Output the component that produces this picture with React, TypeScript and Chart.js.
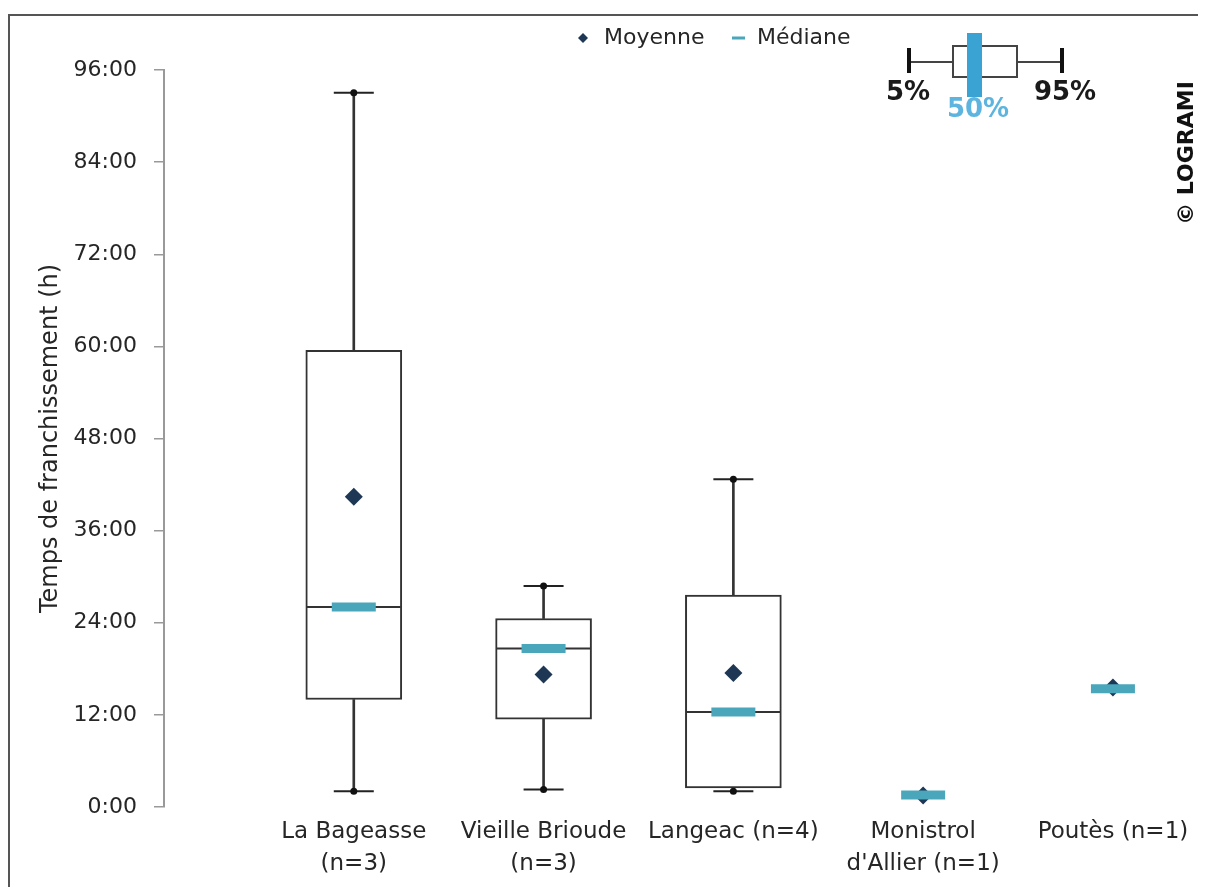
import React, { useEffect, useRef } from 'react';
import { Chart, registerables } from 'chart.js';

Chart.register(...registerables);

// ---- data ----
const categories: (string | string[])[] = [
  ['La Bageasse', '(n=3)'],
  ['Vieille Brioude', '(n=3)'],
  'Langeac (n=4)',
  ['Monistrol', "d'Allier (n=1)"],
  'Poutès (n=1)',
];
const p5: (number | null)[] = [2.05, 2.27, 2.05, null, null];
const p25: (number | null)[] = [14.0, 11.43, 2.48, null, null];
const p50: number[] = [26.06, 20.64, 12.38, 1.55, 15.4];
const p75: (number | null)[] = [59.5, 24.55, 27.6, null, null];
const p95: (number | null)[] = [93.05, 28.8, 42.7, null, null];
const means: number[] = [40.4, 17.25, 17.46, 1.5, 15.55];
const yTickValues: number[] = [0, 12, 24, 36, 48, 60, 72, 84, 96];
const legendLabels = ['Moyenne', 'Médiane'];
const keyLabels = ['5%', '50%', '95%'];
const creditText = '© LOGRAMI';
const yTitle = 'Temps de franchissement (h)';

// ---- styles ----
const FONT = '"DejaVu Sans", sans-serif';
const MEAN_COLOR = '#1d3755';
const MEDIAN_COLOR = '#4aa6bb';
const LINE_COLOR = '#333333';
const TEXT_COLOR = '#262626';
const KEY_BLUE = '#3aa3d3';

const idx = categories.map((_, i) => i + 1);
const pts = (vals: (number | null)[]) =>
  idx.map((x, i) => (vals[i] == null ? null : { x, y: vals[i] as number })).filter(Boolean) as any[];
const ranges = (lo: (number | null)[], hi: (number | null)[]) =>
  idx
    .map((x, i) => (lo[i] == null || hi[i] == null ? null : { x, y: [lo[i], hi[i]] }))
    .filter(Boolean) as any[];

const decorPlugin = {
  id: 'decor',
  afterDraw(chart: any) {
    const ctx: CanvasRenderingContext2D = chart.ctx;
    ctx.save();
    // legend
    ctx.fillStyle = MEAN_COLOR;
    ctx.beginPath();
    const lx = 573, ly = 22, r = 5;
    ctx.moveTo(lx, ly - r);
    ctx.lineTo(lx + r, ly);
    ctx.lineTo(lx, ly + r);
    ctx.lineTo(lx - r, ly);
    ctx.closePath();
    ctx.fill();
    ctx.font = `22px ${FONT}`;
    ctx.fillStyle = TEXT_COLOR;
    ctx.textBaseline = 'middle';
    ctx.textAlign = 'left';
    ctx.fillText(legendLabels[0], 594, ly);
    ctx.strokeStyle = MEDIAN_COLOR;
    ctx.lineWidth = 3;
    ctx.beginPath();
    ctx.moveTo(722, ly);
    ctx.lineTo(735, ly);
    ctx.stroke();
    ctx.fillText(legendLabels[1], 747, ly);

    // key diagram
    ctx.strokeStyle = '#444';
    ctx.lineWidth = 2;
    ctx.beginPath();
    ctx.moveTo(899, 46);
    ctx.lineTo(943, 46);
    ctx.moveTo(1007, 46);
    ctx.lineTo(1052, 46);
    ctx.stroke();
    ctx.fillStyle = '#fff';
    ctx.fillRect(943, 30, 64, 31);
    ctx.strokeRect(943, 30, 64, 31);
    ctx.strokeStyle = '#111';
    ctx.lineWidth = 4;
    ctx.beginPath();
    ctx.moveTo(899, 32);
    ctx.lineTo(899, 57);
    ctx.moveTo(1052, 32);
    ctx.lineTo(1052, 57);
    ctx.stroke();
    ctx.fillStyle = KEY_BLUE;
    ctx.fillRect(957, 17, 15, 64);
    ctx.textAlign = 'center';
    ctx.textBaseline = 'alphabetic';
    ctx.font = `bold 26px ${FONT}`;
    ctx.fillStyle = '#1a1a1a';
    ctx.fillText(keyLabels[0], 898, 84);
    ctx.fillText(keyLabels[2], 1055, 84);
    ctx.fillStyle = '#5db5df';
    ctx.fillText(keyLabels[1], 968, 101);

    // credit
    ctx.translate(1177, 137);
    ctx.rotate(-Math.PI / 2);
    ctx.font = `bold 22px ${FONT}`;
    ctx.fillStyle = '#111';
    ctx.textBaseline = 'middle';
    ctx.fillText(creditText, 0, 0);
    ctx.restore();
  },
};

export default function App() {
  const ref = useRef<HTMLCanvasElement | null>(null);
  useEffect(() => {
    if (!ref.current) return;
    const chart = new Chart(ref.current, {
      type: 'bar',
      data: {
        datasets: [
          {
            type: 'bar',
            label: 'whisker-high',
            data: ranges(p75, p95),
            backgroundColor: LINE_COLOR,
            borderWidth: 0,
            barThickness: 2,
            grouped: false,
            order: 20,
          } as any,
          {
            type: 'bar',
            label: 'whisker-low',
            data: ranges(p5, p25),
            backgroundColor: LINE_COLOR,
            borderWidth: 0,
            barThickness: 2,
            grouped: false,
            order: 19,
          } as any,
          {
            type: 'bar',
            label: 'box',
            data: ranges(p25, p75),
            backgroundColor: '#ffffff',
            borderColor: LINE_COLOR,
            borderWidth: 2,
            borderSkipped: false,
            barThickness: 96,
            grouped: false,
            order: 18,
          } as any,
          {
            type: 'scatter',
            label: 'caps',
            data: [...pts(p5), ...pts(p95)],
            pointStyle: 'line',
            pointRadius: 20,
            borderColor: '#222',
            borderWidth: 2,
            order: 17,
          } as any,
          {
            type: 'scatter',
            label: 'cap-dots',
            data: [...pts(p5), ...pts(p95)],
            pointStyle: 'circle',
            pointRadius: 3.5,
            backgroundColor: '#111',
            borderWidth: 0,
            order: 16,
          } as any,
          {
            type: 'scatter',
            label: 'median-line',
            data: pts(p50.map((v, i) => (p25[i] == null ? null : v))),
            pointStyle: 'line',
            pointRadius: 47,
            borderColor: LINE_COLOR,
            borderWidth: 2,
            order: 15,
          } as any,
          {
            type: 'scatter',
            label: legendLabels[0],
            data: pts(means),
            pointStyle: 'rectRot',
            pointRadius: 9,
            backgroundColor: MEAN_COLOR,
            borderWidth: 0,
            order: 14,
          } as any,
          {
            type: 'scatter',
            label: legendLabels[1],
            data: pts(p50),
            pointStyle: 'line',
            pointRadius: 22,
            borderColor: MEDIAN_COLOR,
            borderWidth: 9,
            order: 13,
          } as any,
        ],
      },
      options: {
        animation: false,
        responsive: false,
        events: [],
        layout: { padding: { top: 54, right: 2, left: 0, bottom: 0 } },
        plugins: {
          legend: { display: false },
          tooltip: { enabled: false },
        },
        scales: {
          x: {
            type: 'linear',
            min: 0,
            max: 5.19,
            offset: false,
            grid: { display: false, drawTicks: false, offset: false },
            border: { display: false },
            afterBuildTicks: (s: any) => {
              s.ticks = idx.map((v) => ({ value: v }));
            },
            afterFit: (s: any) => {
              s.height = 88;
              s.paddingLeft = 0;
              s.paddingRight = 0;
            },
            ticks: {
              autoSkip: false,
              maxRotation: 0,
              padding: 10,
              color: TEXT_COLOR,
              font: { family: FONT, size: 23, lineHeight: 1.35 },
              callback: (v: any) => categories[Math.round(v) - 1] ?? '',
            },
          } as any,
          y: {
            type: 'linear',
            min: 0,
            max: 96,
            afterBuildTicks: (s: any) => {
              s.ticks = yTickValues.map((v) => ({ value: v }));
            },
            afterFit: (s: any) => {
              s.width = 154;
            },
            grid: {
              display: true,
              drawOnChartArea: false,
              drawTicks: true,
              tickLength: 10,
              color: '#999',
              lineWidth: 1.5,
            },
            border: { display: true, color: '#999', width: 2 },
            ticks: {
              padding: 17,
              color: TEXT_COLOR,
              font: { family: FONT, size: 22 },
              callback: (v: any) => `${v}:00`,
            },
            title: {
              display: true,
              text: yTitle,
              color: TEXT_COLOR,
              font: { family: FONT, size: 24, lineHeight: 1.2 },
              padding: { top: 26, bottom: 0 },
            },
          } as any,
        },
      },
      plugins: [decorPlugin],
    } as any);
    return () => chart.destroy();
  }, []);

  return (
    <div style={{ paddingTop: 6, marginBottom: -8 }}>
      <div
        style={{
          position: 'relative',
          width: 1190,
          height: 881,
          boxSizing: 'border-box',
          borderTop: '2px solid #555',
          borderLeft: '2px solid #555',
          background: '#fff',
        }}
      >
        <canvas ref={ref} width={1188} height={879} style={{ display: 'block' }} />
      </div>
    </div>
  );
}
